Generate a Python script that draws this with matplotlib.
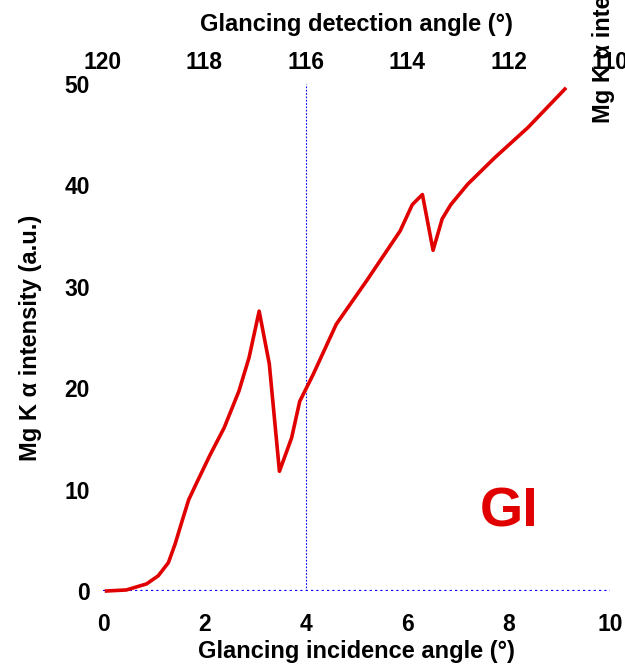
import matplotlib
matplotlib.use("Agg")
import matplotlib.pyplot as plt

# Mg K alpha intensity vs glancing incidence angle
angle = [0.07, 0.46, 0.86, 1.09, 1.29, 1.42, 1.56, 1.69, 1.86, 2.12, 2.39,
         2.68, 2.88, 3.08, 3.28, 3.48, 3.72, 3.88, 4.14, 4.6, 5.2, 5.86,
         6.1, 6.3, 6.51, 6.69, 6.86, 7.19, 7.72, 8.38, 9.11]
intensity = [0.0, 0.1, 0.7, 1.5, 2.8, 4.6, 6.9, 9.0, 10.8, 13.5, 16.1,
             19.7, 23.0, 27.6, 22.4, 11.8, 15.1, 18.7, 21.3, 26.3, 30.6, 35.5,
             38.1, 39.1, 33.6, 36.7, 38.1, 40.1, 42.7, 45.7, 49.5]
x_ticks = [0, 2, 4, 6, 8, 10]
y_ticks = [0, 10, 20, 30, 40, 50]
top_ticks = [120, 118, 116, 114, 112, 110]
marker_angle = 4

plt.rcParams['font.family'] = ['Liberation Sans', 'DejaVu Sans']

fig = plt.figure(figsize=(6.25, 6.65), dpi=100)
ax = fig.add_axes([0.1648, 0.1113, 0.8112, 0.7624])

ax.plot(angle, intensity, color='#e00000', lw=2.6, clip_on=False, zorder=3)
ax.axvline(marker_angle, color='blue', lw=0.8, ls=(0, (1.5, 1.5)))
ax.axhline(0, color='blue', lw=1.6, ls=(0, (1.0, 1.4)), zorder=2)

ax.set_xlim(0, 10)
ax.set_ylim(0, 50)
ax.set_xticks(x_ticks)
ax.set_yticks(y_ticks)
for s in ax.spines.values():
    s.set_visible(False)
ax.tick_params(axis='x', length=0, pad=16, labelsize=16.5)
ax.tick_params(axis='y', length=0, pad=9.5, labelsize=16.5)
for lab in ax.get_xticklabels() + ax.get_yticklabels():
    lab.set_fontweight('bold')
ax.set_xlabel('Glancing incidence angle (°)', fontsize=17, fontweight='bold',
              labelpad=3)
ax.set_ylabel('Mg K \u03b1 intensity (a.u.)', fontsize=17, fontweight='bold',
              labelpad=16)

top = ax.secondary_xaxis('top', functions=(lambda x: 120 - x, lambda t: 120 - t))
top.set_xticks(top_ticks)
top.tick_params(length=0, pad=7.5, labelsize=16.5)
for lab in top.get_xticklabels():
    lab.set_fontweight('bold')
top.spines['top'].set_visible(False)
top.set_xlabel('Glancing detection angle (°)', fontsize=17, fontweight='bold',
               labelpad=14)

ax.text(8.0, 7.7, 'GI', color='#e00000', fontsize=40, fontweight='bold',
        ha='center', va='center')

# cut-off right-hand axis label seen at the edge of the reference
fig.text(0.965, 0.815, 'Mg K \u03b1 intensity (a.u.)', rotation=90,
         fontsize=17, fontweight='bold', ha='center', va='bottom')

fig.savefig('out.png', dpi=100)
